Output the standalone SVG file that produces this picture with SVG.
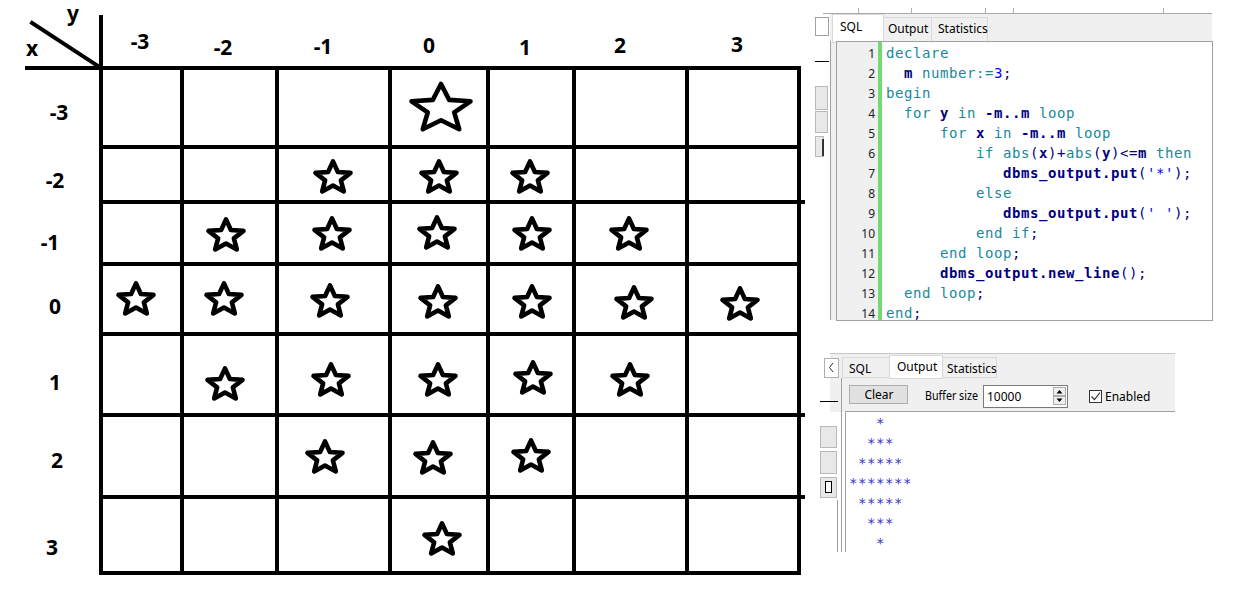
<svg xmlns="http://www.w3.org/2000/svg" width="1234" height="597" viewBox="0 0 1234 597">
<style>
.g{stroke:#000;stroke-width:4;fill:none;stroke-linecap:square}
.lbl{font-family:"Noto Sans","Open Sans",sans-serif;font-weight:bold;font-size:21px;fill:#000;text-anchor:middle}
.st{fill:#fff;stroke:#000;stroke-width:4.6;stroke-linejoin:round}
.ui{font-family:"Noto Sans","Open Sans",sans-serif;font-size:12px;fill:#000}
.ln{font-family:"Noto Sans","DejaVu Sans",sans-serif;font-size:12px;fill:#222;text-anchor:end}
.code{font-family:"DejaVu Sans Mono","Liberation Mono",monospace;font-size:14px;letter-spacing:0.57px}
.kw{fill:#17899a}
.id{fill:#000080;font-weight:bold}
.op{fill:#000080}
.num{fill:#0000ff}
.out{font-family:"DejaVu Sans Mono","Liberation Mono",monospace;font-size:14px;letter-spacing:0.57px;fill:#3a32c0}
.tab{fill:#f0f0f0;stroke:#d9d9d9;stroke-width:1}
.tabA{fill:#fff;stroke:#d9d9d9;stroke-width:1}
</style>
<defs>
<path id="s" d="M0,-16.6 L4.87,-6.04 L17.5,-5.13 L7.88,2.31 L10.82,13.43 L0,7.47 L-10.82,13.43 L-7.88,2.31 L-17.5,-5.13 L-4.87,-6.04 Z"/>
<path id="sb" d="M0,-25 L8.2,-9.1 L29.48,-7.73 L13.27,3.48 L18.23,20.23 L0,11.25 L-18.23,20.23 L-13.27,3.48 L-29.48,-7.73 L-8.2,-9.1 Z"/>
</defs>
<rect width="1234" height="597" fill="#fff"/>

<g id="grid-lines">
<line class="g" x1="32" y1="23" x2="98" y2="66" stroke-linecap="round"/>
<line class="g" x1="27" y1="68" x2="799" y2="68"/>
<line class="g" x1="101" y1="17" x2="101" y2="573"/>
<line class="g" x1="182" y1="68" x2="182" y2="573"/>
<line class="g" x1="277" y1="68" x2="277" y2="573"/>
<line class="g" x1="390" y1="68" x2="390" y2="573"/>
<line class="g" x1="488" y1="68" x2="488" y2="573"/>
<line class="g" x1="574" y1="70" x2="574" y2="573"/>
<line class="g" x1="687" y1="68" x2="687" y2="573"/>
<line class="g" x1="799" y1="68" x2="799" y2="573"/>
<line class="g" x1="101" y1="147" x2="799" y2="147"/>
<line class="g" x1="101" y1="202" x2="803" y2="202" stroke-linecap="round"/>
<line class="g" x1="101" y1="264" x2="799" y2="264"/>
<line class="g" x1="101" y1="334" x2="799" y2="334"/>
<line class="g" x1="101" y1="415" x2="803" y2="415" stroke-linecap="round"/>
<line class="g" x1="101" y1="497" x2="803" y2="497" stroke-linecap="round"/>
<line class="g" x1="101" y1="573" x2="799" y2="573"/>
</g>

<g id="axis-labels">
<text class="lbl" x="32" y="56">x</text>
<text class="lbl" x="73" y="21">y</text>
</g>

<g id="col-labels">
<text class="lbl" x="140" y="49">-3</text>
<text class="lbl" x="223" y="55">-2</text>
<text class="lbl" x="323" y="54">-1</text>
<text class="lbl" x="429" y="53">0</text>
<text class="lbl" x="525" y="55">1</text>
<text class="lbl" x="620" y="53">2</text>
<text class="lbl" x="737" y="52">3</text>
</g>

<g id="row-labels">
<text class="lbl" x="59" y="120">-3</text>
<text class="lbl" x="55" y="188">-2</text>
<text class="lbl" x="50" y="250">-1</text>
<text class="lbl" x="55" y="314">0</text>
<text class="lbl" x="55" y="390">1</text>
<text class="lbl" x="57" y="468">2</text>
<text class="lbl" x="52" y="555">3</text>
</g>

<g id="stars">
<use href="#sb" class="st" x="441" y="109"/>
<use href="#s" class="st" x="333" y="178"/>
<use href="#s" class="st" x="439" y="178"/>
<use href="#s" class="st" x="530" y="178"/>
<use href="#s" class="st" x="226" y="236"/>
<use href="#s" class="st" x="332" y="235"/>
<use href="#s" class="st" x="437" y="234"/>
<use href="#s" class="st" x="532" y="235"/>
<use href="#s" class="st" x="629" y="235"/>
<use href="#s" class="st" x="136" y="300"/>
<use href="#s" class="st" x="224" y="300"/>
<use href="#s" class="st" x="330" y="302"/>
<use href="#s" class="st" x="438" y="303"/>
<use href="#s" class="st" x="532" y="303"/>
<use href="#s" class="st" x="634" y="304"/>
<use href="#s" class="st" x="740" y="305"/>
<use href="#s" class="st" x="225" y="385"/>
<use href="#s" class="st" x="331" y="381"/>
<use href="#s" class="st" x="438" y="381"/>
<use href="#s" class="st" x="533" y="379"/>
<use href="#s" class="st" x="630" y="381"/>
<use href="#s" class="st" x="325" y="458"/>
<use href="#s" class="st" x="433" y="459"/>
<use href="#s" class="st" x="531" y="457"/>
<use href="#s" class="st" x="442" y="540"/>
</g>

<g id="sql-panel">
<rect x="830" y="13" width="382" height="307" fill="#f0f0f0"/>
<line x1="823" y1="13.5" x2="1212" y2="13.5" stroke="#a8a8a8" stroke-width="1"/>
<g stroke="#b0b0b0" stroke-width="1">
<line x1="858.5" y1="8" x2="858.5" y2="13"/>
<line x1="911.5" y1="8" x2="911.5" y2="13"/>
<line x1="985.5" y1="8" x2="985.5" y2="13"/>
<line x1="1013.5" y1="8" x2="1013.5" y2="13"/>
<line x1="1163.5" y1="8" x2="1163.5" y2="13"/>
</g>
<rect x="815.5" y="17.5" width="13" height="18" fill="#fff" stroke="#a0a0a0" stroke-width="1"/>
<line x1="815" y1="61.5" x2="829" y2="61.5" stroke="#000" stroke-width="1"/>
<rect x="815.5" y="86.5" width="12" height="23" fill="#e8e8e8" stroke="#b8b8b8" stroke-width="1"/>
<rect x="815.5" y="111.5" width="12" height="21" fill="#e8e8e8" stroke="#b8b8b8" stroke-width="1"/>
<rect x="815.5" y="136.5" width="8" height="20" fill="#e8e8e8" stroke="#b8b8b8" stroke-width="1"/>
<line x1="823" y1="139" x2="823" y2="156" stroke="#000" stroke-width="1.5"/>
<line x1="830.5" y1="41" x2="830.5" y2="320" stroke="#a0a0a0" stroke-width="1"/>
<rect class="tab" x="883.5" y="17.5" width="48" height="24"/>
<rect class="tab" x="931.5" y="17.5" width="56" height="24"/>
<rect class="tabA" x="832.5" y="14.5" width="51" height="28"/>
<text class="ui" x="840" y="31">SQL</text>
<text class="ui" x="888" y="33">Output</text>
<text class="ui" x="938" y="33">Statistics</text>
<rect x="836.5" y="41.5" width="376" height="279" fill="#fff" stroke="#a0a0a0" stroke-width="1"/>
<rect x="837" y="42" width="41" height="278" fill="#f0f0f0"/>
<rect x="878" y="42" width="4" height="278" fill="#73d973"/>
<text class="ln" x="875" y="58">1</text>
<text class="ln" x="875" y="78">2</text>
<text class="ln" x="875" y="98">3</text>
<text class="ln" x="875" y="118">4</text>
<text class="ln" x="875" y="138">5</text>
<text class="ln" x="875" y="158">6</text>
<text class="ln" x="875" y="178">7</text>
<text class="ln" x="875" y="198">8</text>
<text class="ln" x="875" y="218">9</text>
<text class="ln" x="875" y="238">10</text>
<text class="ln" x="875" y="258">11</text>
<text class="ln" x="875" y="278">12</text>
<text class="ln" x="875" y="298">13</text>
<text class="ln" x="875" y="318">14</text>
<text class="code" xml:space="preserve" x="886" y="58"><tspan class="kw">declare</tspan></text>
<text class="code" xml:space="preserve" x="904" y="78"><tspan class="id">m</tspan><tspan class="kw"> number:=</tspan><tspan class="num">3</tspan><tspan class="op">;</tspan></text>
<text class="code" xml:space="preserve" x="886" y="98"><tspan class="kw">begin</tspan></text>
<text class="code" xml:space="preserve" x="904" y="118"><tspan class="kw">for </tspan><tspan class="id">y</tspan><tspan class="kw"> in </tspan><tspan class="id">-m..m</tspan><tspan class="kw"> loop</tspan></text>
<text class="code" xml:space="preserve" x="940" y="138"><tspan class="kw">for </tspan><tspan class="id">x</tspan><tspan class="kw"> in </tspan><tspan class="id">-m..m</tspan><tspan class="kw"> loop</tspan></text>
<text class="code" xml:space="preserve" x="976" y="158"><tspan class="kw">if abs</tspan><tspan class="op">(</tspan><tspan class="id">x</tspan><tspan class="op">)+</tspan><tspan class="kw">abs</tspan><tspan class="op">(</tspan><tspan class="id">y</tspan><tspan class="op">)&lt;=</tspan><tspan class="id">m</tspan><tspan class="kw"> then</tspan></text>
<text class="code" xml:space="preserve" x="1003" y="178"><tspan class="id">dbms_output.put</tspan><tspan class="op">(</tspan><tspan class="num">'*'</tspan><tspan class="op">);</tspan></text>
<text class="code" xml:space="preserve" x="976" y="198"><tspan class="kw">else</tspan></text>
<text class="code" xml:space="preserve" x="1003" y="218"><tspan class="id">dbms_output.put</tspan><tspan class="op">(</tspan><tspan class="num">' '</tspan><tspan class="op">);</tspan></text>
<text class="code" xml:space="preserve" x="976" y="238"><tspan class="kw">end if</tspan><tspan class="op">;</tspan></text>
<text class="code" xml:space="preserve" x="940" y="258"><tspan class="kw">end loop</tspan><tspan class="op">;</tspan></text>
<text class="code" xml:space="preserve" x="940" y="278"><tspan class="id">dbms_output.new_line</tspan><tspan class="op">();</tspan></text>
<text class="code" xml:space="preserve" x="904" y="298"><tspan class="kw">end loop</tspan><tspan class="op">;</tspan></text>
<text class="code" xml:space="preserve" x="886" y="318"><tspan class="kw">end</tspan><tspan class="op">;</tspan></text>
</g>

<g id="output-panel">
<rect x="830" y="353" width="345" height="59" fill="#f0f0f0"/>
<line x1="830" y1="353.5" x2="1175" y2="353.5" stroke="#c8c8c8" stroke-width="1"/>
<rect x="824.5" y="358.5" width="14" height="19" fill="#fff" stroke="#b0b0b0" stroke-width="1"/>
<path d="M833,363 L829.5,367.5 L833,372" fill="none" stroke="#333" stroke-width="1"/>
<line x1="820" y1="401.5" x2="838" y2="401.5" stroke="#000" stroke-width="1"/>
<rect x="820.5" y="426.5" width="16" height="21" fill="#e8e8e8" stroke="#b8b8b8" stroke-width="1"/>
<rect x="820.5" y="451.5" width="16" height="22" fill="#e8e8e8" stroke="#b8b8b8" stroke-width="1"/>
<rect x="820.5" y="477.5" width="16" height="20" fill="#e8e8e8" stroke="#b8b8b8" stroke-width="1"/>
<rect x="825.5" y="481.5" width="6" height="11" fill="#fff" stroke="#000" stroke-width="1"/>
<line x1="837.5" y1="500" x2="837.5" y2="552" stroke="#a0a0a0" stroke-width="1"/>
<rect class="tab" x="842.5" y="357.5" width="47" height="20"/>
<rect class="tab" x="942.5" y="357.5" width="54" height="20"/>
<rect class="tabA" x="889.5" y="355.5" width="53" height="23"/>
<text class="ui" x="849" y="373">SQL</text>
<text class="ui" x="897" y="371">Output</text>
<text class="ui" x="947" y="373">Statistics</text>
<line x1="841.5" y1="378" x2="841.5" y2="552" stroke="#a0a0a0" stroke-width="1"/>
<rect x="849.5" y="385.5" width="58" height="18" fill="#e1e1e1" stroke="#adadad" stroke-width="1"/>
<text class="ui" x="879" y="399" text-anchor="middle">Clear</text>
<text class="ui" x="925" y="400" textLength="53" lengthAdjust="spacingAndGlyphs">Buffer size</text>
<rect x="983.5" y="385.5" width="84" height="22" fill="#fff" stroke="#7a7a7a" stroke-width="1"/>
<text class="ui" x="987" y="401">10000</text>
<rect x="1053.5" y="387.5" width="12" height="8" fill="#f0f0f0" stroke="#adadad" stroke-width="1"/>
<rect x="1053.5" y="396.5" width="12" height="8" fill="#f0f0f0" stroke="#adadad" stroke-width="1"/>
<path d="M1056.5,393.5 L1059.5,390 L1062.5,393.5 Z" fill="#000"/>
<path d="M1056.5,398.5 L1059.5,402 L1062.5,398.5 Z" fill="#000"/>
<rect x="1089.5" y="390.5" width="12" height="12" fill="#fff" stroke="#333" stroke-width="1"/>
<path d="M1091.5,396.5 L1094.5,399.5 L1100,392.5" fill="none" stroke="#333" stroke-width="1.2"/>
<text class="ui" x="1105" y="401">Enabled</text>
<rect x="845" y="412" width="330" height="140" fill="#fff"/>
<line x1="845" y1="411.5" x2="1175" y2="411.5" stroke="#a0a0a0" stroke-width="1"/>
<line x1="845.5" y1="411" x2="845.5" y2="552" stroke="#a0a0a0" stroke-width="1"/>
<text class="out" x="876" y="428">*</text>
<text class="out" x="867" y="448">***</text>
<text class="out" x="858" y="468">*****</text>
<text class="out" x="849" y="488">*******</text>
<text class="out" x="858" y="508">*****</text>
<text class="out" x="867" y="528">***</text>
<text class="out" x="876" y="548">*</text>
</g>
</svg>
